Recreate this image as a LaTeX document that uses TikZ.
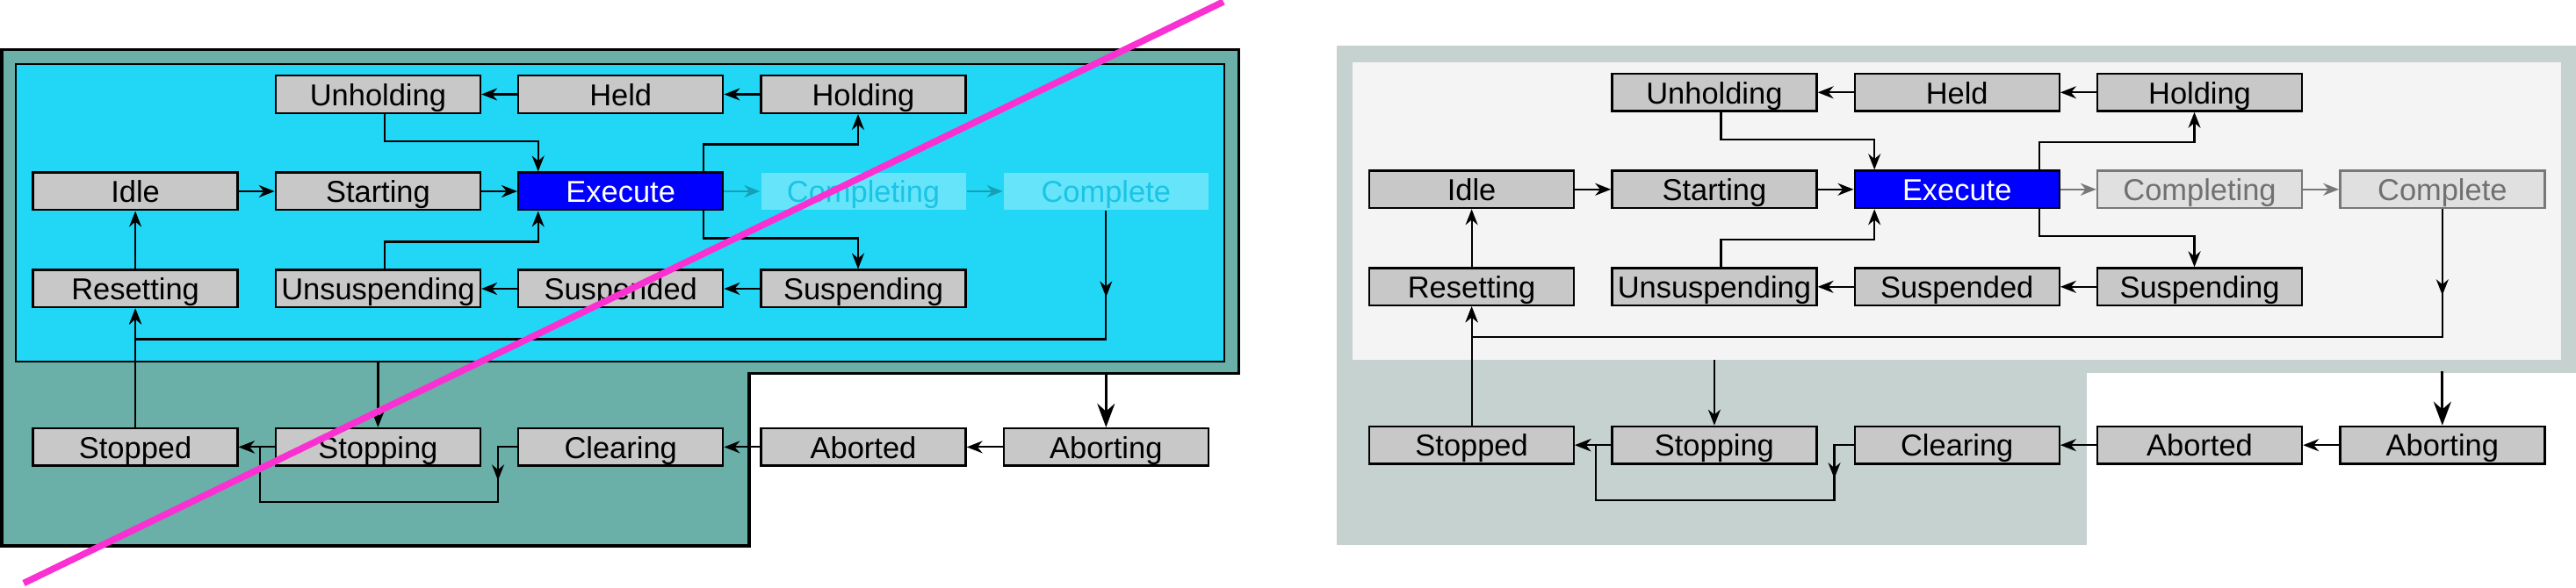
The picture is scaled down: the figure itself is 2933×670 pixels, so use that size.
\documentclass[tikz,border=0pt]{standalone}
\usepackage{fontspec}
\setmainfont{Liberation Sans}
\usetikzlibrary{arrows.meta,decorations.markings}
\definecolor{statefill}{RGB}{200,200,200}
\definecolor{tealzone}{RGB}{106,176,168}
\definecolor{cyanzone}{RGB}{34,215,245}
\definecolor{cyanfade}{RGB}{102,229,250}
\definecolor{cyantext}{RGB}{25,196,230}
\definecolor{cyanflow}{RGB}{22,160,182}
\definecolor{greyzone}{RGB}{197,210,207}
\definecolor{greyinner}{RGB}{244,244,244}
\definecolor{greyfade}{RGB}{224,224,224}
\definecolor{greyedge}{RGB}{120,120,120}
\definecolor{greytext}{RGB}{112,112,112}
\definecolor{strikepink}{RGB}{250,48,210}
\tikzset{
    state/.style={rectangle, draw, fill=statefill, line width=.24mm, minimum width=23.3mm, minimum height=4.26mm, inner sep=0mm, text height=2.56mm, text depth=0mm, font=\fontsize{9.8}{11}\selectfont},
    flow/.style={line width=.22mm, -{Stealth[length=1.8mm, width=1.4mm]}},
    bigflow/.style={line width=.3mm, -{Stealth[length=2.7mm, width=2mm]}},
    midtip/.style={postaction={decorate}, decoration={markings, mark=at position #1 with {\arrow{Stealth[length=1.8mm, width=1.4mm]}}}},
    strikeline/.style={draw=strikepink, line width=.75mm}
}
% one copy of the state machine, in pixel units
\newcommand{\statechart}{%
        \path [zone] (1.9,56.4) -- (1410.5,56.4) -- (1410.5,425.5) -- (852.8,425.5) -- (852.8,621.8) -- (1.9,621.8) -- cycle;
        \coordinate (ledge) at (852.8,425.5);
        \node (running) [running, minimum width=137.6mm, minimum height=33.9mm] at (706,242.4) {};
        \node (unholding) [state] at (430.4,107.5) {Unholding};
        \node (held) [state] at (706.7,107.5) {Held};
        \node (holding) [state] at (983,107.5) {Holding};
        \node (idle) [state] at (154.1,218) {Idle};
        \node (starting) [state] at (430.4,218) {Starting};
        \node (execute) [state, fill=blue, text=white] at (706.7,218) {Execute};
        \node (completing) [state, faded] at (983,218) {Completing};
        \node (complete) [state, faded] at (1259.3,218) {Complete};
        \node (resetting) [state] at (154.1,329) {Resetting};
        \node (unsuspending) [state] at (430.4,329) {Unsuspending};
        \node (suspended) [state] at (706.7,329) {Suspended};
        \node (suspending) [state] at (983,329) {Suspending};
        \node (stopped) [state] at (154.1,509.4) {Stopped};
        \node (stopping) [state] at (430.4,509.4) {Stopping};
        \node (clearing) [state] at (706.7,509.4) {Clearing};
        \node (aborted) [state] at (983,509.4) {Aborted};
        \node (aborting) [state] at (1259.3,509.4) {Aborting};
        \draw [flow] (holding) -- (held);
        \draw [flow] (held) -- (unholding);
        \draw [flow] ([xshift=.75mm]unholding.south) -- ++(0,31) -| ([xshift=-9.4mm]execute.north);
        \draw [flow] (idle) -- (starting);
        \draw [flow] (starting) -- (execute);
        \draw [flow] ([xshift=.75mm]unsuspending.north) -- ++(0,-31) -| ([xshift=-9.4mm]execute.south);
        \draw [flow] (suspended) -- (unsuspending);
        \draw [flow] (suspending) -- (suspended);
        \draw [flow] ([xshift=9.4mm]execute.north) -- ++(0,-31) -| ([xshift=-.6mm]holding.south);
        \draw [flow] ([xshift=9.4mm]execute.south) -- ++(0,31) -| ([xshift=-.6mm]suspending.north);
        \draw [flow, fadedflow] (execute) -- (completing);
        \draw [flow, fadedflow] (completing) -- (complete);
        \draw [flow, midtip=9.8mm] (complete.south) -- ++(0,146) -| (resetting.south);
        \draw [flow] (stopped) -- (resetting);
        \draw [flow] (resetting) -- (idle);
        \draw [flow] (running.south -| stopping.north) -- (stopping);
        \draw [flow] (stopping) -- (stopped);
        \draw [flow, midtip=6mm] (clearing.west) -| ++(-22,63) -| ([xshift=-1.7mm]stopping.west) -- (stopped.east);
        \draw [bigflow] (ledge -| aborting.north) -- (aborting);
        \draw [flow] (aborting) -- (aborted);
        \draw [flow] (aborted) -- (clearing);
}

\begin{document}
\begin{tikzpicture}[x=.1mm, y=-.1mm]
        \useasboundingbox (0,0) rectangle (2933,670);
        % left copy, crossed out
        \begin{scope}[name prefix=l-,
                zone/.style={draw, line width=.36mm, fill=tealzone},
                running/.style={draw, line width=.24mm, fill=cyanzone},
                faded/.style={draw=none, fill=cyanfade, text=cyantext},
                fadedflow/.style={color=cyanflow}]
                \statechart
        \end{scope}
        \draw [strikeline] (27,664.5) -- (1393,2);
        % right copy
        \begin{scope}[shift={(1521.5,-2.2)}, name prefix=r-,
                zone/.style={draw=greyzone, line width=.36mm, fill=greyzone},
                running/.style={fill=greyinner},
                faded/.style={draw=greyedge, fill=greyfade, text=greytext},
                fadedflow/.style={color=greyedge}]
                \statechart
        \end{scope}
\end{tikzpicture}
\end{document}
